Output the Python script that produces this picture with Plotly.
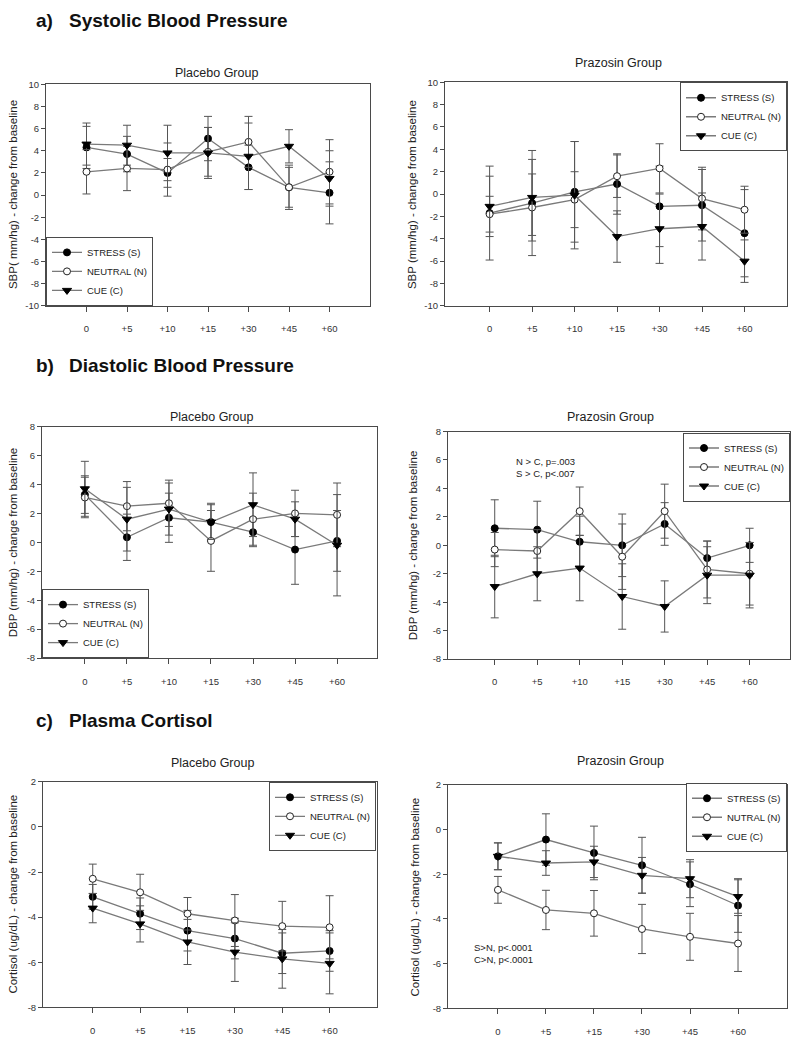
import plotly.graph_objects as go

# page body has an 8px default margin; the figure is sized to fit the 800x1047 window
OFF = 8
W, H = 800 - OFF, 1047 - OFF

# ---------------- data ----------------
times7 = ["0", "+5", "+10", "+15", "+30", "+45", "+60"]
times6 = ["0", "+5", "+15", "+30", "+45", "+60"]
series_names = ["STRESS (S)", "NEUTRAL (N)", "CUE (C)"]
series_names_c_prz = ["STRESS (S)", "NUTRAL (N)", "CUE (C)"]

yticks_bp_sys = [-10, -8, -6, -4, -2, 0, 2, 4, 6, 8, 10]
yticks_bp_dia = [-8, -6, -4, -2, 0, 2, 4, 6, 8]
yticks_cort = [-8, -6, -4, -2, 0, 2]

# a) Systolic - Placebo
a_plc_stress = [4.3, 3.7, 2.0, 5.1, 2.5, 0.7, 0.2]
a_plc_stress_err = [1.9, 1.6, 1.3, 2.0, 2.0, 2.0, 2.8]
a_plc_neutral = [2.1, 2.4, 2.3, 3.9, 4.8, 0.7, 2.1]
a_plc_neutral_err = [2.0, 2.0, 2.4, 2.2, 2.3, 1.8, 2.9]
a_plc_cue = [4.6, 4.5, 3.8, 3.8, 3.5, 4.4, 1.5]
a_plc_cue_err = [1.9, 1.8, 2.5, 2.3, 3.0, 1.5, 2.5]

# a) Systolic - Prazosin
a_prz_stress = [-1.7, -0.8, 0.2, 0.9, -1.1, -1.0, -3.5]
a_prz_stress_err = [4.2, 4.7, 4.5, 2.7, 3.6, 3.2, 3.9]
a_prz_neutral = [-1.8, -1.2, -0.5, 1.6, 2.3, -0.4, -1.4]
a_prz_neutral_err = [1.6, 3.0, 2.5, 1.9, 2.2, 2.8, 2.1]
a_prz_cue = [-1.1, -0.3, -0.1, -3.8, -3.1, -2.9, -6.0]
a_prz_cue_err = [2.7, 3.4, 4.8, 2.3, 3.1, 3.0, 1.9]

# b) Diastolic - Placebo
b_plc_stress = [3.3, 0.35, 1.7, 1.4, 0.7, -0.5, 0.1]
b_plc_stress_err = [1.3, 1.6, 1.7, 1.3, 1.0, 2.4, 2.1]
b_plc_neutral = [3.1, 2.5, 2.7, 0.1, 1.6, 2.0, 1.9]
b_plc_neutral_err = [1.4, 1.7, 1.6, 2.1, 1.8, 1.6, 2.2]
b_plc_cue = [3.7, 1.6, 2.3, 1.4, 2.6, 1.6, -0.2]
b_plc_cue_err = [1.9, 2.2, 1.8, 1.2, 2.2, 1.2, 3.5]

# b) Diastolic - Prazosin
b_prz_stress = [1.2, 1.1, 0.25, 0.0, 1.5, -0.9, 0.0]
b_prz_stress_err = [2.0, 2.0, 1.8, 2.2, 1.5, 1.2, 1.2]
b_prz_neutral = [-0.3, -0.4, 2.4, -0.8, 2.4, -1.7, -2.0]
b_prz_neutral_err = [1.2, 1.5, 1.7, 2.3, 1.9, 2.0, 2.2]
b_prz_cue = [-2.9, -2.0, -1.6, -3.6, -4.3, -2.1, -2.1]
b_prz_cue_err = [2.2, 1.9, 2.3, 2.3, 1.8, 2.0, 2.3]

# c) Cortisol - Placebo
c_plc_stress = [-3.1, -3.85, -4.6, -4.95, -5.6, -5.5]
c_plc_stress_err = [0.55, 0.7, 0.9, 0.9, 0.9, 0.9]
c_plc_neutral = [-2.3, -2.9, -3.85, -4.15, -4.4, -4.45]
c_plc_neutral_err = [0.65, 0.8, 0.72, 1.15, 1.1, 1.4]
c_plc_cue = [-3.6, -4.3, -5.1, -5.55, -5.85, -6.05]
c_plc_cue_err = [0.65, 0.8, 1.0, 1.3, 1.3, 1.35]

# c) Cortisol - Prazosin
c_prz_stress = [-1.2, -0.45, -1.05, -1.6, -2.45, -3.4]
c_prz_stress_err = [0.6, 1.15, 1.2, 1.25, 1.0, 1.2]
c_prz_neutral = [-2.7, -3.6, -3.75, -4.45, -4.8, -5.1]
c_prz_neutral_err = [0.6, 0.88, 1.02, 1.1, 1.05, 1.25]
c_prz_cue = [-1.2, -1.5, -1.45, -2.05, -2.2, -3.0]
c_prz_cue_err = [0.6, 0.55, 0.7, 0.8, 0.85, 0.75]

# --------------- layout helpers ---------------
FONT = "Arial, Liberation Sans, sans-serif"
FRAME = "#4a4a4a"


def px(x):
    return (x - OFF) / W


def py(y):
    return 1 - (y - OFF) / H


panels = [
    dict(box=(46, 370, 79, 303), cats=times7, xr=[-1, 7], yr=[-10, 10], yt=yticks_bp_sys,
         data=[(a_plc_stress, a_plc_stress_err), (a_plc_neutral, a_plc_neutral_err), (a_plc_cue, a_plc_cue_err)],
         names=series_names, leg=dict(x=px(46), y=py(303), xanchor="left", yanchor="bottom"),
         title="Placebo Group", title_xy=(216, 68),
         ytitle="SBP( mm/hg) - change from baseline", ytitle_x=13),
    dict(box=(445, 787, 77, 303), cats=times7, xr=[-1.05, 7], yr=[-10, 10], yt=yticks_bp_sys,
         data=[(a_prz_stress, a_prz_stress_err), (a_prz_neutral, a_prz_neutral_err), (a_prz_cue, a_prz_cue_err)],
         names=series_names, leg=dict(x=px(787), y=py(77), xanchor="right", yanchor="top"),
         title="Prazosin Group", title_xy=(618, 58),
         ytitle="SBP (mm/hg) - change from baseline", ytitle_x=412),
    dict(box=(42, 377, 425, 659), cats=times7, xr=[-1.02, 6.95], yr=[-8, 8], yt=yticks_bp_dia,
         data=[(b_plc_stress, b_plc_stress_err), (b_plc_neutral, b_plc_neutral_err), (b_plc_cue, b_plc_cue_err)],
         names=series_names, leg=dict(x=px(42), y=py(659), xanchor="left", yanchor="bottom"),
         title="Placebo Group", title_xy=(211, 415),
         ytitle="DBP (mm/hg) - change from baseline", ytitle_x=13),
    dict(box=(448, 790, 430, 660), cats=times7, xr=[-1.1, 6.95], yr=[-8, 8], yt=yticks_bp_dia,
         data=[(b_prz_stress, b_prz_stress_err), (b_prz_neutral, b_prz_neutral_err), (b_prz_cue, b_prz_cue_err)],
         names=series_names, leg=dict(x=px(790), y=py(431), xanchor="right", yanchor="top"),
         title="Prazosin Group", title_xy=(610, 415),
         ytitle="DBP (mm/hg) - change from baseline", ytitle_x=413),
    dict(box=(43, 377, 784, 1012), cats=times6, xr=[-1.05, 6], yr=[-8, 2], yt=yticks_cort,
         data=[(c_plc_stress, c_plc_stress_err), (c_plc_neutral, c_plc_neutral_err), (c_plc_cue, c_plc_cue_err)],
         names=series_names, leg=dict(x=px(376), y=py(784), xanchor="right", yanchor="top"),
         title="Placebo Group", title_xy=(212, 765),
         ytitle="Cortisol (ug/dL) - change from baseline", ytitle_x=13),
    dict(box=(448, 787, 787, 1013), cats=times6, xr=[-1.04, 6.02], yr=[-8, 2], yt=yticks_cort,
         data=[(c_prz_stress, c_prz_stress_err), (c_prz_neutral, c_prz_neutral_err), (c_prz_cue, c_prz_cue_err)],
         names=series_names_c_prz, leg=dict(x=px(787), y=py(785), xanchor="right", yanchor="top"),
         title="Prazosin Group", title_xy=(620, 763),
         ytitle="Cortisol (ug/dL) - change from baseline", ytitle_x=415),
]

marker_styles = [
    dict(symbol="circle", size=7, color="black", line=dict(color="black", width=1)),
    dict(symbol="circle", size=7, color="white", line=dict(color="#222", width=1)),
    dict(symbol="triangle-down", size=8, color="black", line=dict(color="black", width=1)),
]

fig = go.Figure()
layout = dict(
    width=W, height=H,
    margin=dict(l=0, r=0, t=0, b=0),
    paper_bgcolor="white", plot_bgcolor="white",
    font=dict(family=FONT, color="#222"),
    showlegend=True,
)
annotations = []

for i, p in enumerate(panels, start=1):
    sfx = "" if i == 1 else str(i)
    lg = "legend" if i == 1 else f"legend{i}"
    x0, x1, y0, y1 = p["box"]
    for k, ((vals, errs), nm) in enumerate(zip(p["data"], p["names"])):
        fig.add_trace(go.Scatter(
            x=p["cats"], y=vals, name=nm, mode="lines+markers",
            xaxis=f"x{sfx}", yaxis=f"y{sfx}", legend=lg,
            line=dict(color="#7a7a7a", width=1.3),
            marker=marker_styles[k],
            error_y=dict(type="data", array=errs, visible=True,
                         color="#555555", thickness=1, width=4),
        ))
    layout[f"xaxis{sfx}"] = dict(
        domain=[px(x0), px(x1)], anchor=f"y{sfx}", type="category",
        categoryorder="array", categoryarray=p["cats"], range=p["xr"],
        showline=True, mirror=True, linecolor=FRAME, linewidth=1,
        ticks="outside", ticklen=5, tickcolor=FRAME, showgrid=False, zeroline=False,
        ticklabelstandoff=9, tickfont=dict(size=9.5, color="#333"),
    )
    layout[f"yaxis{sfx}"] = dict(
        domain=[py(y1), py(y0)], anchor=f"x{sfx}", range=p["yr"],
        tickmode="array", tickvals=p["yt"], ticktext=[str(v) for v in p["yt"]],
        showline=True, mirror=True, linecolor=FRAME, linewidth=1,
        ticks="outside", ticklen=4, tickcolor=FRAME, showgrid=False, zeroline=False,
        tickfont=dict(size=9.5, color="#333"),
    )
    layout[lg] = dict(
        **p["leg"], bgcolor="white", bordercolor=FRAME, borderwidth=1,
        font=dict(size=9.5, color="#222"), itemwidth=30, tracegroupgap=0,
    )
    tx, ty = p["title_xy"]
    annotations.append(dict(text=p["title"], x=px(tx), y=py(ty), xref="paper", yref="paper",
                            showarrow=False, font=dict(size=12.5, color="#222"),
                            xanchor="center", yanchor="middle"))
    annotations.append(dict(text=p["ytitle"], x=px(p["ytitle_x"]), y=py((y0 + y1) / 2),
                            xref="paper", yref="paper", showarrow=False, textangle=-90,
                            font=dict(size=11.5, color="#222"), xanchor="center", yanchor="middle"))

# section headings
for lab, txt, yy in [("a)", "Systolic Blood Pressure", 15),
                     ("b)", "Diastolic Blood Pressure", 363),
                     ("c)", "Plasma Cortisol", 722)]:
    annotations.append(dict(text=f"<b>{lab}</b>", x=px(34), y=py(yy), xref="paper", yref="paper",
                            showarrow=False, xanchor="left", yanchor="middle",
                            font=dict(size=19, color="#111")))
    annotations.append(dict(text=f"<b>{txt}</b>", x=px(67), y=py(yy), xref="paper", yref="paper",
                            showarrow=False, xanchor="left", yanchor="middle",
                            font=dict(size=19, color="#111")))

# statistics notes
annotations.append(dict(text="N > C, p=.003<br>S > C, p<.007", x=px(514), y=py(466),
                        xref="paper", yref="paper", showarrow=False, align="left",
                        xanchor="left", yanchor="middle", font=dict(size=9.5, color="#222")))
annotations.append(dict(text="S>N, p<.0001<br>C>N, p<.0001", x=px(472), y=py(958),
                        xref="paper", yref="paper", showarrow=False, align="left",
                        xanchor="left", yanchor="middle", font=dict(size=9.5, color="#222")))

layout["annotations"] = annotations
fig.update_layout(**layout)
fig.write_html("out.html")
